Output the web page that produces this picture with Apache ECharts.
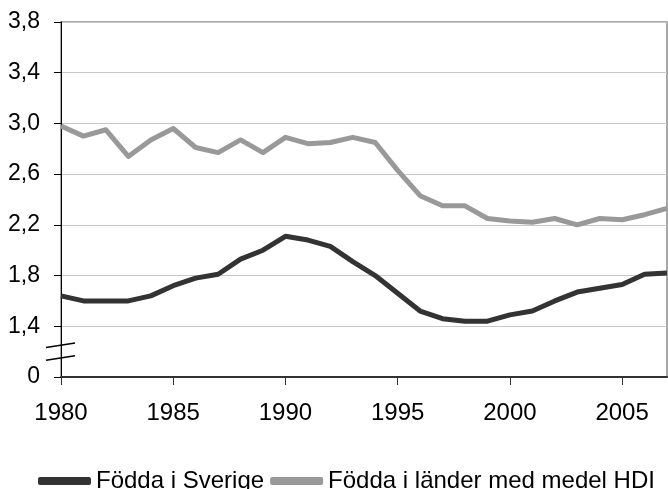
<!DOCTYPE html>
<html>
<head>
<meta charset="UTF-8">
<title>Födda i Sverige / medel HDI</title>
<script src="https://cdn.jsdelivr.net/npm/echarts@6/dist/echarts.min.js"></script>
<style>
  html, body { margin: 0; padding: 0; background: #fff; }
</style>
</head>
<body>
<div id="main" style="width:668px;height:489px;"></div>
<script>
// data
var years = ['1980','1981','1982','1983','1984','1985','1986','1987','1988','1989',
             '1990','1991','1992','1993','1994','1995','1996','1997','1998','1999',
             '2000','2001','2002','2003','2004','2005','2006','2007'];
var swedenBorn = [1.64,1.60,1.60,1.60,1.64,1.72,1.78,1.81,1.93,2.00,
                  2.11,2.08,2.03,1.91,1.80,1.66,1.52,1.46,1.44,1.44,
                  1.49,1.52,1.60,1.67,1.70,1.73,1.81,1.82];
var mediumHdiBorn = [2.98,2.90,2.95,2.74,2.87,2.96,2.81,2.77,2.87,2.77,
                     2.89,2.84,2.85,2.89,2.85,2.63,2.43,2.35,2.35,2.25,
                     2.23,2.22,2.25,2.20,2.25,2.24,2.28,2.33];
var seriesNames = ['Födda i Sverige', 'Födda i länder med medel HDI'];

// the axis is broken between 0 and 1,4: values are drawn shifted by 1
var axisShift = 1.0;
function shifted(arr) {
  return arr.map(function (v) { return +(v - axisShift).toFixed(3); });
}

var font = "'Liberation Sans', Arial, sans-serif";
var chart = echarts.init(document.getElementById('main'));

var option = {
  animation: false,
  grid: {
    left: 61, right: 1, top: 22, bottom: 112,
    show: true,
    borderColor: '#8a8a8a',
    borderWidth: 1.5
  },
  legend: {
    data: seriesNames,
    left: 33,
    top: 464,
    itemGap: 6,
    itemWidth: 53,
    itemHeight: 8,
    icon: 'roundRect',
    textStyle: { fontFamily: font, fontSize: 24, color: '#000' }
  },
  xAxis: {
    type: 'category',
    data: years,
    boundaryGap: false,
    axisLine: { lineStyle: { color: '#333', width: 2 } },
    axisTick: { interval: 4, length: 8, lineStyle: { color: '#333', width: 1 } },
    axisLabel: {
      interval: 4,
      margin: 24,
      fontFamily: font,
      fontSize: 24,
      color: '#000'
    },
    splitLine: { show: false }
  },
  yAxis: {
    type: 'value',
    min: 0,
    max: 2.8,
    interval: 0.4,
    axisLine: { show: true, lineStyle: { color: '#000', width: 1 } },
    axisTick: { show: true, length: 7, lineStyle: { color: '#000' } },
    axisLabel: {
      margin: 21,
      fontFamily: font,
      fontSize: 23,
      color: '#000',
      formatter: function (v) {
        if (v === 0) return '0';
        return (v + axisShift).toFixed(1).replace('.', ',');
      }
    },
    splitLine: { show: true, lineStyle: { color: '#c8c8c8', width: 1 } }
  },
  series: [
    {
      name: seriesNames[0],
      type: 'line',
      data: shifted(swedenBorn),
      symbol: 'none',
      z: 3,
      itemStyle: { color: '#333333' },
      lineStyle: { color: '#333333', width: 5, join: 'round' }
    },
    {
      name: seriesNames[1],
      type: 'line',
      data: shifted(mediumHdiBorn),
      symbol: 'none',
      z: 2,
      itemStyle: { color: '#999999' },
      lineStyle: { color: '#999999', width: 5, join: 'round' }
    }
  ]
};
chart.setOption(option);

// axis-break slashes across the y axis, placed through the axis scales
var breakValues = [0.25, 0.15];
var ax = chart.convertToPixel({ xAxisIndex: 0 }, years[0]);
var breakMarks = breakValues.map(function (v) {
  var py = chart.convertToPixel({ yAxisIndex: 0 }, v);
  return {
    type: 'line',
    z: 100,
    shape: { x1: ax - 15, y1: py + 2.2, x2: ax + 14, y2: py - 2.2 },
    style: { stroke: '#000', lineWidth: 1.5 }
  };
});
chart.setOption({ graphic: { elements: breakMarks } });
</script>
</body>
</html>
